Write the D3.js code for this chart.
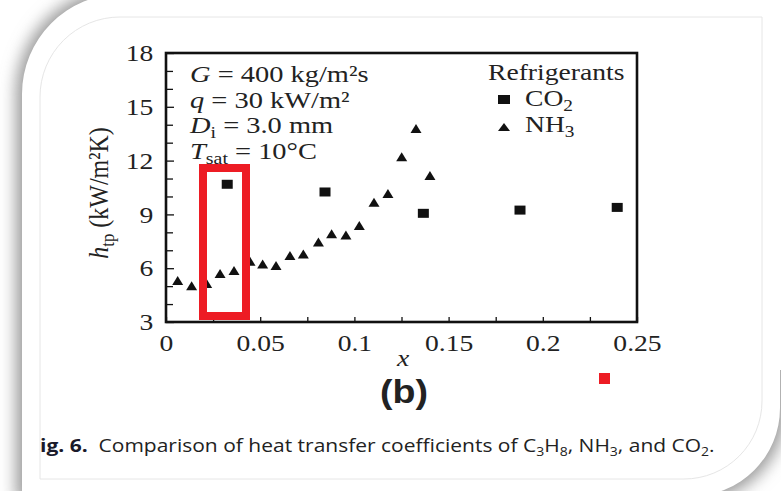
<!DOCTYPE html>
<html>
<meta charset="utf-8">
<script src="https://d3js.org/d3.v7.min.js"></script>
<style>
  body { margin: 0; background: #fff; }
  svg text { font-family: "Liberation Serif", "Times New Roman", serif; fill: #222; }
</style>
<body>
<div id="vis"></div>
<script>

// CO2 (squares)
const co2_x = [0.0325, 0.0844, 0.1366, 0.1879, 0.2395];
const co2_h = [10.68, 10.25, 9.06, 9.24, 9.39];

// NH3 (triangles)
const nh3_x = [0.0062, 0.0136, 0.0216, 0.0287, 0.0361, 0.0446, 0.0513, 0.0584, 0.0658, 0.0729,
               0.0809, 0.0879, 0.0955, 0.1026, 0.1104, 0.1178, 0.1251, 0.1327, 0.1401];
const nh3_h = [5.28, 5.0, 5.12, 5.67, 5.84, 6.36, 6.21, 6.12, 6.68, 6.77,
               7.44, 7.89, 7.83, 8.35, 9.65, 10.14, 12.18, 13.76, 11.14];

const y_ticks = [3, 6, 9, 12, 15, 18];
const y_minor = d3.range(4, 18, 1).filter(v => v % 3 != 0);
const x_ticks = [0, 0.05, 0.1, 0.15, 0.2, 0.25];
const x_minor = [0.025, 0.075, 0.125, 0.175, 0.225];

const total_width = 781, total_height = 491;
const margin = {top: 53, right: 144, bottom: 169, left: 166};
const width = total_width - margin.left - margin.right,
      height = total_height - margin.top - margin.bottom;
const SX = 1.15;   // the picture is a bit wider than tall

const root = d3.select("#vis").append("svg")
    .attr("width", total_width)
    .attr("height", total_height);

// page card with soft shadow
const defs = root.append("defs");
defs.append("filter").attr("id", "soft")
    .attr("x", "-10%").attr("y", "-10%").attr("width", "120%").attr("height", "120%")
  .append("feGaussianBlur").attr("stdDeviation", 8);
const clip = defs.append("clipPath").attr("id", "shadowclip");
clip.append("rect").attr("x", 0).attr("y", 0).attr("width", 140).attr("height", total_height);
clip.append("rect").attr("x", 600).attr("y", 370).attr("width", 200).attr("height", 140);

const card = "M22,500 L22,94 A100,100 0 0 1 122,-6 L780,-6 L780,408 A88,88 0 0 1 692,496 L22,496 Z";
root.append("g").attr("clip-path", "url(#shadowclip)")
  .append("path")
    .attr("d", card)
    .attr("fill", "#9a9a9a")
    .attr("stroke", "#9a9a9a")
    .attr("stroke-width", 12)
    .attr("filter", "url(#soft)");
root.append("path").attr("d", card).attr("fill", "#fff");
root.append("path")
    .attr("d", "M40,479 L40,97 A80,80 0 0 1 120,17 L762,17 L762,401 A78,78 0 0 1 684,479 Z")
    .attr("fill", "none")
    .attr("stroke", "#e6e6e6")
    .attr("stroke-width", 1);

const svg = root.append("g")
    .attr("transform", `translate(${margin.left},${margin.top})`);

const x_scale = d3.scaleLinear().domain([0, 0.25]).range([0, width]);
const y_scale = d3.scaleLinear().domain([3, 18]).range([height, 0]);

// minor ticks
svg.append("g")
  .attr("transform", `translate(0,${height})`)
  .call(d3.axisBottom(x_scale).tickValues(x_minor).tickSize(-5).tickFormat(""));
svg.append("g")
  .call(d3.axisLeft(y_scale).tickValues(y_minor).tickSize(-7).tickFormat(""));

// major ticks + labels
svg.append("g")
  .attr("transform", `translate(0,${height})`)
  .call(d3.axisBottom(x_scale).tickValues(x_ticks).tickSize(-5).tickPadding(12).tickFormat(d => String(d)));
svg.append("g")
  .call(d3.axisLeft(y_scale).tickValues(y_ticks).tickSize(-8).tickPadding(11));

svg.selectAll(".domain").remove();
svg.selectAll(".tick line").attr("stroke", "#111").attr("stroke-width", 1.3);
svg.selectAll(".tick text")
    .style("font-size", "24px")
    .attr("fill", "#222")
    .attr("font-family", "Liberation Serif")
    .attr("transform", `scale(${SX},1)`);

// frame
svg.append("rect")
    .attr("width", width).attr("height", height)
    .attr("fill", "none").attr("stroke", "#111").attr("stroke-width", 2.6);

// rich text helper: parts of {t, i (italic), dy, s (size factor)}
function rich(parent, transform, parts, size, anchor) {
  const t = parent.append("text")
      .attr("transform", transform)
      .attr("text-anchor", anchor || "start")
      .style("font-size", size + "px");
  parts.forEach(p => {
    const s = t.append("tspan").text(p.t);
    if (p.i) s.style("font-style", "italic");
    if (p.dy) s.attr("dy", p.dy);
    if (p.s) s.style("font-size", size * p.s + "px");
  });
  return t;
}

// conditions
const ax = 24, fs = 24;
rich(svg, `translate(${ax},29) scale(${SX * 1.03},1)`,
  [{t: "G", i: true}, {t: " = 400 kg/m²s"}], fs);
rich(svg, `translate(${ax},55) scale(${SX * 1.03},1)`,
  [{t: "q", i: true}, {t: " = 30 kW/m²"}], fs);
rich(svg, `translate(${ax},80) scale(${SX * 1.03},1)`,
  [{t: "D", i: true}, {t: "i", dy: 5, s: 0.7}, {t: " = 3.0 mm", dy: -5}], fs);
rich(svg, `translate(${ax},106) scale(${SX * 1.03},1)`,
  [{t: "T", i: true}, {t: "sat", dy: 5, s: 0.7}, {t: " = 10°C", dy: -5}], fs);

// legend
rich(svg, `translate(${488 - margin.left},${80 - margin.top}) scale(${SX},1)`,
  [{t: "Refrigerants"}], 24);
rich(svg, `translate(${525 - margin.left},${106 - margin.top}) scale(${SX},1)`,
  [{t: "CO"}, {t: "2", dy: 5, s: 0.7}], 24);
rich(svg, `translate(${525 - margin.left},${132 - margin.top}) scale(${SX},1)`,
  [{t: "NH"}, {t: "3", dy: 5, s: 0.7}], 24);

const lx = 504 - margin.left;
svg.append("rect")
    .attr("x", lx - 6).attr("y", 99.5 - margin.top - 4.5)
    .attr("width", 12).attr("height", 9).attr("fill", "#111");
svg.append("path")
    .attr("d", `M${lx - 6},${131 - margin.top} L${lx + 6},${131 - margin.top} L${lx},${123 - margin.top} Z`)
    .attr("fill", "#111");

// axis titles
rich(root, `translate(108,193) rotate(-90) scale(1,${SX})`,
  [{t: "h", i: true}, {t: "tp", dy: 5, s: 0.7}, {t: " (kW/m²K)", dy: -5}], 24, "middle");
rich(root, `translate(403,366) scale(${SX},1)`, [{t: "x", i: true}], 24, "middle");

// points
svg.append("g")
  .selectAll("path")
  .data(nh3_x.map((v, i) => ({x: v, h: nh3_h[i]})))
  .join("path")
    .attr("d", d => {
      const cx = x_scale(d.x), cy = y_scale(d.h);
      return `M${cx - 5.5},${cy + 4} L${cx + 5.5},${cy + 4} L${cx},${cy - 5} Z`;
    })
    .attr("fill", "#111");

svg.append("g")
  .selectAll("rect")
  .data(co2_x.map((v, i) => ({x: v, h: co2_h[i]})))
  .join("rect")
    .attr("x", d => x_scale(d.x) - 5.5)
    .attr("y", d => y_scale(d.h) - 4.5)
    .attr("width", 11)
    .attr("height", 9)
    .attr("fill", "#111");

// red highlight box + red dot
root.append("rect")
    .attr("x", 203).attr("y", 168).attr("width", 43).attr("height", 148)
    .attr("fill", "none").attr("stroke", "#ed1c24").attr("stroke-width", 8);
root.append("rect")
    .attr("x", 599).attr("y", 373).attr("width", 11).attr("height", 11)
    .attr("fill", "#ed1c24");

// "(b)"
const b = root.append("text")
    .attr("x", 0).attr("y", 0)
    .attr("text-anchor", "middle")
    .style("font-family", "Liberation Sans, Arial, sans-serif")
    .style("font-weight", "bold")
    .style("font-size", "33px")
    .attr("fill", "#1a1a1a")
    .text("(b)");
const bw = b.node().getComputedTextLength();
b.attr("transform", `translate(404,403) scale(${48 / bw},1)`);

// caption
const cap = root.append("text")
    .style("font-family", "Open Sans, sans-serif")
    .style("font-size", "18px")
    .style("font-weight", 500)
    .attr("fill", "#1c2550");
cap.append("tspan").text("ig. 6.").style("font-weight", "bold").attr("fill", "#1a1a2a");
cap.append("tspan").text("  Comparison of heat transfer coefficients of C");
cap.append("tspan").text("3").attr("dy", 4).style("font-size", "12px");
cap.append("tspan").text("H").attr("dy", -4);
cap.append("tspan").text("8").attr("dy", 4).style("font-size", "12px");
cap.append("tspan").text(", NH").attr("dy", -4);
cap.append("tspan").text("3").attr("dy", 4).style("font-size", "12px");
cap.append("tspan").text(", and CO").attr("dy", -4);
cap.append("tspan").text("2").attr("dy", 4).style("font-size", "12px");
cap.append("tspan").text(".").attr("dy", -4);
cap.attr("xml:space", "preserve").style("white-space", "pre");
const cw = cap.node().getComputedTextLength();
cap.attr("transform", `translate(40,452) scale(${675 / cw},1)`);

</script>
</body>
</html>
